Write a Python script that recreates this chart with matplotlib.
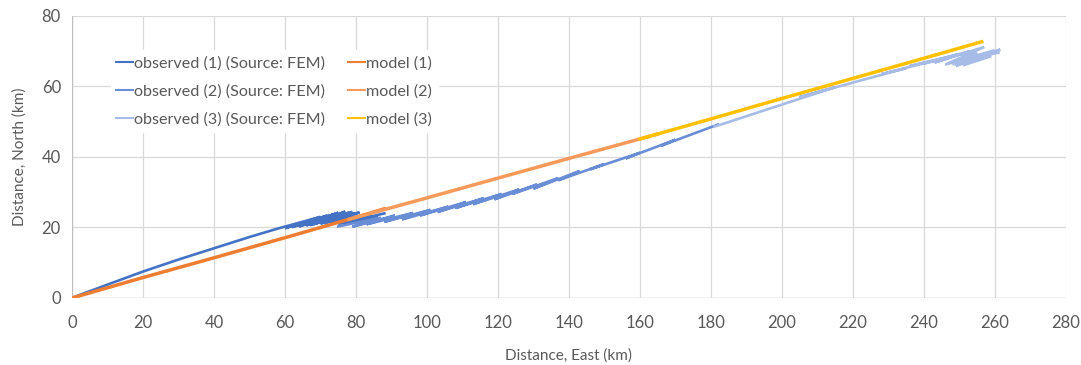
import matplotlib
matplotlib.use("Agg")
import matplotlib.pyplot as plt

# ---- data ----
obs1_x = [0, 2, 10, 20, 30, 40, 50, 58, 70, 60, 72, 62, 74, 64, 75, 66, 77, 67, 78, 68,
          79, 70, 80, 71, 81, 73, 84, 75, 86, 77, 88]
obs1_y = [0, 0.8, 3.8, 7.5, 10.9, 14.1, 17.3, 19.7, 23.0, 19.8, 23.4, 20.1, 23.8, 20.3, 24.2, 20.6, 24.5, 20.7, 24.2, 20.9,
          24.4, 21.1, 24.1, 21.2, 24.3, 21.5, 23.8, 21.0, 23.2, 21.4, 24.0]

obs2_x = [75, 87, 79, 91, 83, 96, 88, 101, 93, 106, 98, 111, 103, 116, 108, 121, 113, 126,
          119, 131, 124, 137, 130, 143, 137, 150, 146, 160, 156, 170, 166, 182]
obs2_y = [20.3, 22.8, 20.2, 23.4, 20.9, 24.1, 21.6, 25.0, 22.3, 25.9, 23.4, 27.2, 24.4, 28.3, 25.5, 29.5, 26.6, 30.8,
          28.0, 32.2, 29.5, 34.0, 31.0, 36.0, 33.4, 38.0, 36.5, 41.2, 39.6, 44.9, 43.2, 49.2]

obs3_x = [181, 215, 205, 235, 228, 244, 236, 250, 240, 253, 243, 257, 246, 260, 249, 261.5,
          251, 259, 248, 255, 250, 261]
obs3_y = [48.6, 59.8, 57.0, 65.2, 63.5, 67.6, 65.8, 69.2, 66.5, 70.0, 66.8, 71.2, 66.2, 70.3, 65.8, 70.5,
          66.0, 68.6, 66.3, 69.5, 67.2, 69.6]

mod1_x = [0, 20, 40, 60, 80, 88]
mod1_y = [0, 5.8, 11.4, 17.1, 22.9, 25.3]
mod2_x = [78, 100, 120, 140, 165]
mod2_y = [22.3, 28.4, 34.0, 39.6, 46.5]
mod3_x = [160, 180, 200, 220, 240, 256.3]
mod3_y = [45.1, 50.8, 56.6, 62.3, 68.0, 72.7]

labels = ["observed (1) (Source: FEM)", "observed (2) (Source: FEM)", "observed (3) (Source: FEM)",
          "model (1)", "model (2)", "model (3)"]
colors = ["#4472C4", "#6A8ED6", "#A6BCE6", "#ED7D31", "#F59A5A", "#FFC000"]

xticks = list(range(0, 281, 20))
yticks = list(range(0, 81, 20))

plt.rcParams['font.family'] = ['Lato', 'DejaVu Sans']
fig = plt.figure(figsize=(10.81, 3.65), dpi=100)
ax = fig.add_axes([0.0666, 0.1836, 0.9194, 0.7726])

series = [(obs1_x, obs1_y), (obs2_x, obs2_y), (obs3_x, obs3_y),
          (mod1_x, mod1_y), (mod2_x, mod2_y), (mod3_x, mod3_y)]
handles = []
for i, ((xs, ys), lab, col) in enumerate(zip(series, labels, colors)):
    lw = 1.9 if i < 3 else 2.5
    h, = ax.plot(xs, ys, color=col, lw=lw, label=lab, solid_joinstyle='miter', zorder=3)
    handles.append(h)

ax.set_xlim(0, 280)
ax.set_ylim(0, 80)
ax.set_xticks(xticks)
ax.set_yticks(yticks)
ax.grid(True, color="#D9D9D9", lw=0.9)
ax.set_axisbelow(True)
for s in ax.spines.values():
    s.set_visible(False)
ax.axhline(0, color="#BFBFBF", lw=0.9, zorder=1)
ax.axvline(0, color="#BFBFBF", lw=0.9, zorder=1)
ax.tick_params(length=0, labelsize=12, colors="#595959")
ax.tick_params(axis='x', pad=12)
ax.tick_params(axis='y', pad=8)
ax.set_xlabel("Distance, East (km)", fontsize=11, color="#595959", labelpad=13)
ax.set_ylabel("Distance, North (km)", fontsize=11, color="#595959", labelpad=11)

leg = ax.legend(handles=handles, ncol=2, loc="upper left", bbox_to_anchor=(0.039, 0.878),
                frameon=True, fontsize=11.6, handlelength=1.05, handletextpad=0.05,
                labelspacing=0.86, columnspacing=1.45, borderpad=0.35, borderaxespad=0)
leg.get_frame().set_edgecolor("white")
leg.get_frame().set_facecolor("white")
leg.get_frame().set_alpha(1)
for t in leg.get_texts():
    t.set_color("#595959")
for l in leg.get_lines():
    l.set_linewidth(1.5)

fig.savefig("out.png", dpi=100)
